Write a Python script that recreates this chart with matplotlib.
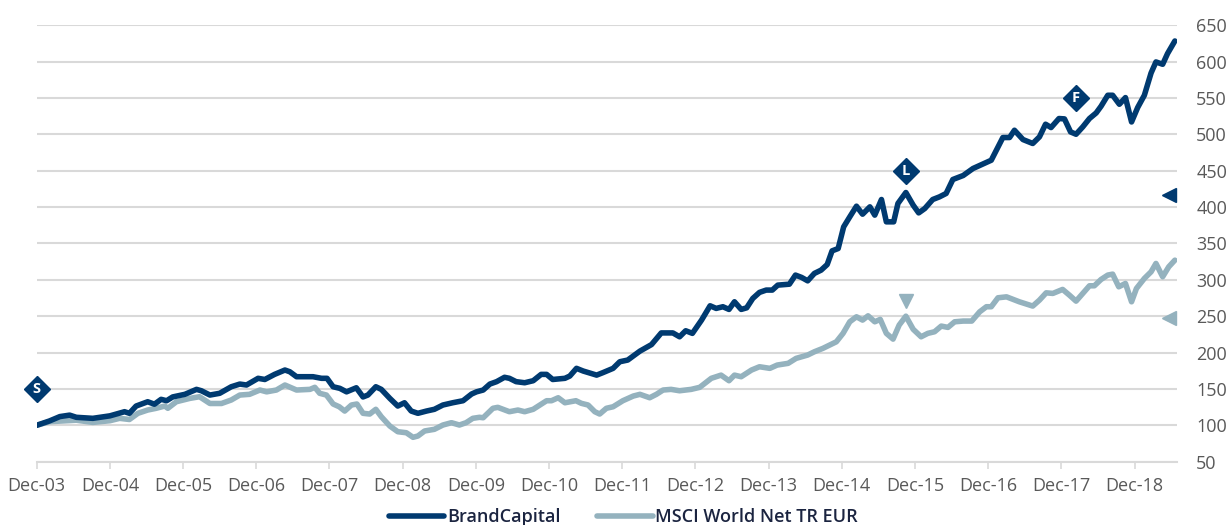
import matplotlib.pyplot as plt
import numpy as np

# months since Dec-03
brand_m = [0, 2.1, 3.8, 5.4, 6.5, 9.2, 12.0, 14.4, 15.2, 16.3, 18.2, 19.3, 20.4, 21.3, 22.3,
           24.3, 26.2, 27.0, 28.4, 30.0, 31.9, 33.3, 34.4, 36.3, 37.4, 39.0, 40.7, 41.5, 42.6,
           45.3, 46.7, 47.6, 48.6, 49.7, 50.8, 52.4, 53.5, 54.3, 55.6, 56.5, 57.9, 59.2, 60.3,
           61.4, 62.5, 63.9, 65.2, 66.6, 68.2, 69.9, 71.3, 72.1, 73.2, 74.3, 75.4, 76.7, 77.5,
           78.6, 80.0, 81.4, 82.7, 83.6, 84.6, 86.6, 87.4, 88.5, 89.6, 91.8, 92.8, 94.5, 95.6,
           96.9, 98.9, 100.8, 102.4, 104.3, 105.4, 106.4, 107.5, 109.0, 110.4, 111.4, 112.5,
           113.5, 114.4, 115.5, 116.4, 117.4, 118.5, 119.6, 120.6, 121.5, 123.4, 124.4, 125.4,
           126.4, 127.5, 128.6, 129.6, 130.4, 131.4, 132.3, 133.3, 134.4, 135.4, 136.6, 137.4,
           138.5, 139.3, 140.5, 141.2, 142.5, 143.7, 144.6, 145.6, 146.9, 148.0, 149.1, 150.2,
           151.9, 153.5, 155.1, 156.5, 158.4, 159.5, 160.3, 161.7, 163.3, 164.4, 165.4, 166.3,
           167.6, 168.5, 169.5, 170.4, 171.5, 172.6, 173.7, 174.5, 175.6, 176.4, 177.5, 178.5,
           179.5, 180.5, 181.6, 182.7, 183.5, 184.6, 185.4, 186.6]
brand_v = [100, 106, 112, 114, 111, 109.6, 113, 118.7, 116.5, 126.5, 132.4, 129, 135.7, 133.8, 139,
           142.6, 149.4, 147.5, 141.6, 144, 153, 156.7, 155.4, 164.6, 163, 170, 176, 173.6, 166.8,
           166.8, 164.6, 164.6, 153, 150.8, 146, 151.6, 139, 141.6, 153, 149.4, 137, 126.5, 131,
           119.6, 116.5, 119.6, 122, 127.9, 131, 133.8, 143, 146, 148.5, 156.7, 160, 166, 164.6,
           160, 158.5, 161.3, 170, 170, 163, 164.6, 167.7, 178.3, 174.6, 169, 172.3, 178.3, 187.4,
           189.7, 202, 211, 227, 227, 221.7, 230, 226.4, 244.6, 264.3, 260.7, 263,
           259.3, 269.8, 259.3, 261.5, 274.4, 282.7, 285.9, 285.9, 292.7, 294, 306.5, 303.3,
           298.6, 308.8, 313.3, 321, 339.8, 343, 372.8, 386.5, 401.2, 390.2, 400.3, 388.9,
           410.4, 379.7, 379.7, 405, 420, 402.6, 392, 398, 410.4, 414, 418.7, 437.9,
           443.4, 453, 459, 464.4, 495.6, 495.6, 505.6, 492.8, 487.4, 496.5, 513.9, 509.3,
           521.7, 521.2, 503.3, 500.1, 510.2, 521.7, 529.4, 538.6, 553.7, 553.7, 541.3, 550.5,
           517, 536.8, 553.7, 584.3, 599.5, 596.3, 611, 628.3]

msci_m = [0, 2.1, 4.3, 6.5, 9.2, 12.0, 13.6, 15.2, 16.6, 18.2, 19.6, 21.0, 21.5, 22.9, 25.1,
          26.7, 28.4, 30.3, 31.9, 33.3, 34.9, 36.6, 37.7, 39.3, 40.7, 42.6, 44.8, 45.6, 46.4,
          47.5, 48.6, 49.6, 50.5, 51.6, 52.5, 53.5, 54.6, 55.6, 56.5, 57.9, 59.2, 60.6, 61.7,
          62.5, 63.6, 65.2, 66.6, 68.0, 69.3, 70.4, 71.5, 72.6, 73.2, 74.8, 75.6, 77.5, 78.9,
          80.0, 81.4, 82.5, 83.6, 84.4, 85.5, 86.6, 88.4, 89.3, 90.4, 91.5, 92.3, 93.4, 94.5,
          96.1, 97.8, 98.9, 100.5, 101.6, 102.7, 104.0, 105.4, 107.3, 108.7, 110.6, 112.2,
          113.5, 114.4, 115.5, 117.2, 118.5, 120.2, 121.4, 123.2, 124.5, 126.4, 127.5, 128.9,
          130.0, 131.1, 132.2, 133.3, 134.4, 135.4, 136.3, 137.4, 138.3, 139.3, 140.4, 141.4,
          142.5, 143.7, 145.0, 146.1, 147.2, 148.3, 149.4, 150.5, 151.9, 153.3, 154.6, 155.7,
          156.5, 157.6, 159.0, 161.1, 163.3, 164.4, 165.5, 166.6, 168.2, 169.3, 170.4, 171.5,
          172.6, 173.4, 174.5, 175.6, 176.4, 177.4, 178.5, 179.5, 180.3, 181.6, 182.7, 183.5,
          184.6, 185.6, 186.6]
msci_v = [100, 105, 106, 107, 104, 106.3, 109.6, 108, 116.5, 121, 123.4, 126.5, 123.4, 132.4, 137,
          139.3, 130, 130, 134.8, 141.6, 142.6, 148.5, 146, 148.5, 155.4, 148.5, 149.4, 152.2, 144,
          141.6, 129.3, 125.5, 119.6, 127.9, 129.3, 116.5, 115.5, 122, 111.8, 99, 91.2, 89.8, 83.5,
          85.3, 92.2, 94.5, 100.4, 103.6, 100.4, 103.6, 109.6, 111, 110.4, 123.4, 124.7, 118.7, 121,
          118.7, 122, 127.9, 133.8, 133.8, 137.9, 131, 133.8, 130.2, 127.9, 118.7, 115.5, 123.4, 125.5,
          133.8, 140.2, 142.6, 137.9, 142.6, 148.5, 149.4, 147.5, 149.4, 152.2, 164.6, 169,
          161.3, 169, 166.8, 176, 180.5, 178.3, 182.8, 185.2, 192, 196.6, 201.1, 205.8,
          210.3, 214.8, 226.4, 242.3, 249.2, 244.6, 250.5, 242.3, 245.6, 226.4, 218.5, 237.8,
          250, 232, 221.7, 226.4, 228.6, 236.4, 234.6, 242.3, 243.3, 243.3, 256, 263,
          263, 275.3, 276.6, 269.8, 263.9, 272.1, 282.1, 281.3, 286.8, 279, 270.7, 281.3,
          291.8, 291.8, 300.5, 306.5, 307.8, 290.4, 295, 269.8, 288.1, 301.9, 311, 322.5,
          304.2, 317.9, 327]

tick_labels = ['Dec-03', 'Dec-04', 'Dec-05', 'Dec-06', 'Dec-07', 'Dec-08', 'Dec-09', 'Dec-10',
               'Dec-11', 'Dec-12', 'Dec-13', 'Dec-14', 'Dec-15', 'Dec-16', 'Dec-17', 'Dec-18']

# lettered markers on the fund line
tag_letters = ['S', 'L', 'F']
tag_m = [0, 142.5, 170.4]
tag_v = [150, 450, 550]

# other markers
msci_tri_m, msci_tri_v = 142.5, 271
end_m = 185.7
end_brand_v, end_msci_v = 417, 248

NAVY = '#003a70'
GREY_BLUE = '#94b2be'
TXT = '#595959'

plt.rcParams['font.family'] = ['Open Sans', 'DejaVu Sans']

fig = plt.figure(figsize=(12.27, 5.25), dpi=100)
ax = fig.add_axes([0.0299, 0.1206, 0.959 - 0.0299, 0.952 - 0.1206])

ax.plot(msci_m, msci_v, color=GREY_BLUE, lw=4.0, solid_joinstyle='round',
        solid_capstyle='round', label='MSCI World Net TR EUR', zorder=3)
ax.plot(brand_m, brand_v, color=NAVY, lw=4.0, solid_joinstyle='round',
        solid_capstyle='round', label='BrandCapital', zorder=4)

for letter, m, v in zip(tag_letters, tag_m, tag_v):
    ax.plot(m, v, marker='D', ms=13, color=NAVY, clip_on=False, zorder=5)
    ax.text(m, v, letter, color='white', fontsize=10.5, fontweight='bold',
            ha='center', va='center', zorder=6)

ax.plot(msci_tri_m, msci_tri_v, marker='v', ms=10, color=GREY_BLUE, zorder=5)
ax.plot(end_m, end_brand_v, marker='<', ms=10, color=NAVY, clip_on=False, zorder=5)
ax.plot(end_m, end_msci_v, marker='<', ms=10, color=GREY_BLUE, clip_on=False, zorder=5)

ax.set_xlim(0, 186.9)
ax.set_ylim(50, 650)
ax.set_xticks(np.arange(0, 181, 12))
ax.set_xticklabels(tick_labels)
ax.set_yticks(np.arange(50, 651, 50))

ax.yaxis.tick_right()
ax.tick_params(axis='y', length=0, pad=14, labelsize=13, labelcolor=TXT)
ax.tick_params(axis='x', length=5, width=1.2, color='#d9d9d9', pad=6,
               labelsize=13, labelcolor=TXT)

ax.grid(axis='y', color='#d9d9d9', lw=1.5)
ax.set_axisbelow(True)
for side in ['top', 'left', 'right']:
    ax.spines[side].set_visible(False)
ax.spines['bottom'].set_color('#d9d9d9')
ax.spines['bottom'].set_linewidth(1.5)

h, l = ax.get_legend_handles_labels()
leg = fig.legend(h[::-1], l[::-1], loc='center', bbox_to_anchor=(0.508, 0.015),
                 ncol=2, frameon=False, handlelength=3.1, handletextpad=0.15,
                 columnspacing=2.0, prop={'size': 13, 'weight': 'semibold'})
for t in leg.get_texts():
    t.set_color('#1b2440')

fig.savefig('out.png', dpi=100)
